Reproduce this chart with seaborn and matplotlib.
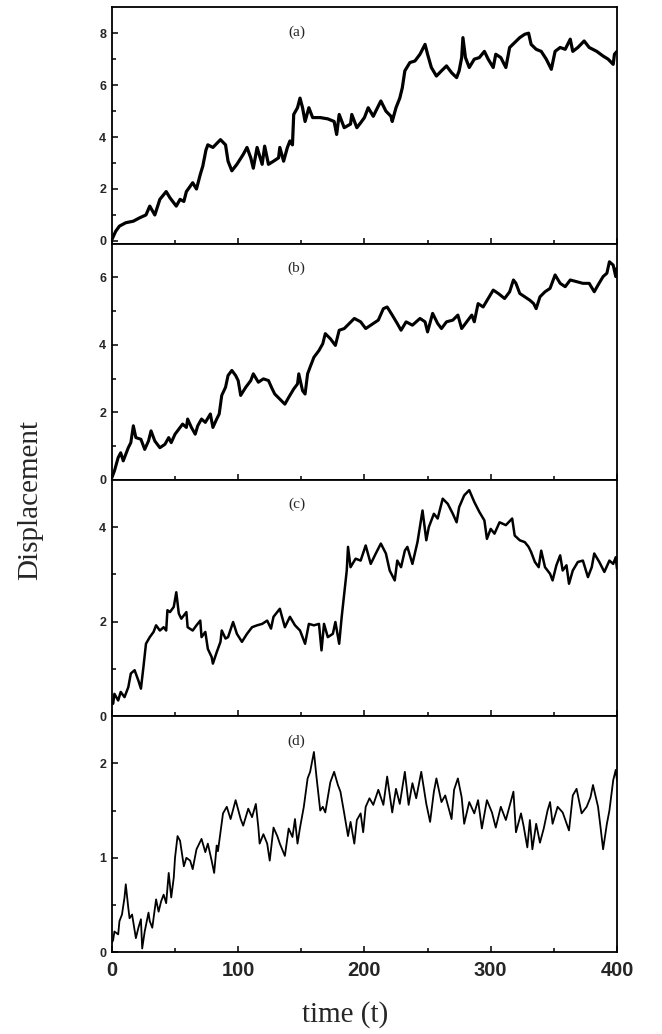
import matplotlib
matplotlib.use("Agg")
import matplotlib.pyplot as plt
import seaborn as sns
import pandas as pd
from matplotlib.ticker import MultipleLocator, FixedLocator

# ---------------- data ----------------
t_a = [0, 3, 6, 11, 17, 22, 27, 30, 34, 38, 43, 46, 51, 54, 57, 59, 64, 67, 70, 72, 74.5, 76, 80, 86, 90, 92, 95, 99,
       104, 107, 110, 112, 115, 119, 121, 124, 128, 132, 133, 136, 139, 141, 143, 144, 147, 149, 151, 153, 156, 159,
       165, 171, 176, 178, 180, 184, 189, 190, 194, 197, 200, 203, 207, 209, 213, 217, 221, 222, 225, 228, 230, 232,
       236, 240, 244, 248, 250, 253, 257, 261, 265, 269, 273, 275, 277, 278, 280, 283, 287, 291, 295, 298, 302, 304,
       308, 312, 315, 319, 323, 327, 330, 332, 336, 340, 344, 348, 351, 355, 359, 363, 365, 369, 374, 378, 384, 389,
       393, 397, 398, 400]
disp_a = [0.05, 0.37, 0.57, 0.7, 0.76, 0.89, 1.0, 1.34, 1.0, 1.6, 1.9, 1.66, 1.34, 1.6, 1.52, 1.9, 2.24, 2.0, 2.56,
          2.88, 3.5, 3.7, 3.6, 3.9, 3.7, 3.07, 2.7, 2.95, 3.33, 3.6, 3.2, 2.8, 3.6, 2.95, 3.65, 2.95, 3.07, 3.2, 3.6,
          3.07, 3.6, 3.85, 3.7, 4.87, 5.13, 5.5, 5.13, 4.6, 5.13, 4.75, 4.75, 4.7, 4.6, 4.1, 4.87, 4.36, 4.5, 4.87,
          4.36, 4.55, 4.75, 5.13, 4.8, 5.0, 5.39, 5.0, 4.8, 4.6, 5.13, 5.5, 5.9, 6.55, 6.87, 6.93, 7.19, 7.57, 7.19,
          6.68, 6.35, 6.55, 6.74, 6.48, 6.29, 6.55, 7.06, 7.83, 7.06, 6.68, 7.0, 7.06, 7.3, 7.0, 6.68, 7.19, 7.06,
          6.68, 7.45, 7.64, 7.83, 7.96, 8.0, 7.57, 7.38, 7.3, 7.0, 6.61, 7.3, 7.45, 7.38, 7.77, 7.3, 7.45, 7.7, 7.45,
          7.3, 7.12, 7.0, 6.8, 7.19, 7.3]

t_b = [0, 2, 5, 7, 9, 13, 15, 17, 19, 23, 26, 29, 31, 34, 38, 42, 45, 47, 50, 54, 56, 59, 60, 63, 66, 68, 71, 74, 78,
       80, 83, 85, 87, 90, 92, 95, 98, 100, 102, 106, 110, 112, 116, 120, 124, 127, 129, 133, 137, 140, 144, 147,
       148, 151, 153, 155, 157, 160, 164, 167, 169, 173, 177, 180, 184, 188, 192, 197, 201, 207, 211, 215, 218, 222,
       226, 229, 233, 238, 244, 248, 250, 254, 258, 261, 265, 270, 274, 277, 281, 285, 287, 290, 294, 298, 302, 306,
       311, 315, 318, 320, 323, 327, 331, 334, 336, 339, 343, 347, 351, 355, 359, 363, 368, 373, 378, 382, 385, 389,
       392, 394, 397, 399, 400]
disp_b = [0.06, 0.26, 0.66, 0.8, 0.56, 0.95, 1.1, 1.6, 1.25, 1.2, 0.9, 1.15, 1.45, 1.15, 0.95, 1.05, 1.25, 1.1, 1.35,
          1.55, 1.65, 1.55, 1.8, 1.55, 1.35, 1.6, 1.8, 1.7, 1.95, 1.55, 1.8, 1.95, 2.5, 2.74, 3.09, 3.24, 3.09, 2.94,
          2.5, 2.74, 2.94, 3.14, 2.89, 2.99, 2.94, 2.69, 2.54, 2.39, 2.24, 2.44, 2.69, 2.84, 3.14, 2.64, 2.54, 3.14,
          3.34, 3.63, 3.83, 4.03, 4.33, 4.18, 3.98, 4.43, 4.48, 4.63, 4.78, 4.68, 4.48, 4.63, 4.73, 5.07, 5.12, 4.88,
          4.63, 4.43, 4.68, 4.58, 4.78, 4.68, 4.38, 4.93, 4.63, 4.48, 4.68, 4.73, 4.88, 4.48, 4.68, 4.88, 4.68, 5.22,
          5.12, 5.37, 5.62, 5.52, 5.37, 5.57, 5.92, 5.82, 5.52, 5.42, 5.32, 5.22, 5.07, 5.42, 5.57, 5.67, 6.07, 5.82,
          5.72, 5.92, 5.87, 5.82, 5.82, 5.57, 5.77, 6.02, 6.12, 6.46, 6.36, 6.02, 6.27]

t_c = [0, 1, 2, 5, 7, 10, 13, 15, 18, 21, 23, 25, 27, 30, 33, 35, 38, 41, 43, 44, 46, 49, 51, 53, 55, 59, 60, 64, 67,
       70, 71, 74, 76, 79, 80, 83, 86, 87, 90, 92, 96, 99, 103, 107, 111, 115, 119, 123, 126, 128, 133, 137, 141,
       145, 149, 153, 156, 160, 164, 166, 168, 171, 175, 177, 180, 182, 184, 186, 187, 189, 193, 197, 201, 205, 209,
       213, 217, 220, 224, 226, 229, 232, 234, 238, 242, 246, 249, 251, 255, 258, 262, 266, 270, 273, 275, 279, 283,
       287, 291, 295, 297, 300, 303, 307, 312, 317, 319, 323, 327, 330, 332, 335, 338, 340, 343, 347, 349, 352, 355,
       357, 360, 362, 365, 369, 373, 377, 380, 382, 386, 390, 394, 397, 399, 400]
disp_c = [0.3, 0.26, 0.47, 0.33, 0.51, 0.4, 0.61, 0.9, 0.97, 0.75, 0.58, 1.04, 1.53, 1.67, 1.78, 1.92, 1.81, 1.88,
          1.81, 2.24, 2.2, 2.31, 2.62, 2.17, 2.06, 2.2, 1.88, 1.81, 1.92, 2.02, 1.67, 1.78, 1.42, 1.25, 1.11, 1.35,
          1.57, 1.81, 1.64, 1.67, 1.99, 1.74, 1.57, 1.74, 1.88, 1.92, 1.95, 2.02, 1.85, 2.1, 2.27, 1.88, 2.1, 1.92,
          1.81, 1.53, 1.95, 1.92, 1.95, 1.39, 1.95, 1.67, 1.74, 1.99, 1.53, 2.1, 2.59, 3.08, 3.58, 3.15, 3.33, 3.29,
          3.61, 3.22, 3.44, 3.65, 3.44, 3.08, 2.87, 3.29, 3.15, 3.5, 3.58, 3.22, 3.68, 4.35, 3.72, 4.0, 4.28, 4.18,
          4.6, 4.49, 4.28, 4.1, 4.42, 4.67, 4.78, 4.53, 4.32, 4.14, 3.75, 3.96, 3.86, 4.1, 4.04, 4.18, 3.82, 3.72,
          3.68, 3.58, 3.47, 3.26, 3.15, 3.5, 3.15, 3.01, 2.87, 3.19, 3.4, 3.08, 3.19, 2.8, 3.08, 3.26, 3.29, 2.94,
          3.15, 3.44, 3.26, 3.05, 3.29, 3.22, 3.36, 3.12]

t_d = [0, 1, 2, 5, 6, 8, 10, 11, 13, 14, 16, 19, 21, 23, 24, 26, 29, 30, 32, 35, 37, 39, 41, 43, 45, 47, 49, 50, 52,
       54, 57, 59, 62, 64, 67, 71, 74, 76, 79, 81, 83, 84, 88, 91, 94, 98, 102, 104, 108, 111, 114, 116, 117, 120,
       123, 125, 128, 131, 133, 137, 140, 143, 145, 147, 149, 152, 155, 157, 160, 162, 165, 167, 169, 173, 176, 179,
       181, 184, 187, 189, 192, 194, 197, 199, 201, 204, 207, 211, 215, 218, 222, 225, 228, 232, 235, 238, 241, 245,
       249, 252, 255, 257, 261, 264, 269, 271, 274, 277, 279, 283, 287, 290, 293, 297, 301, 304, 308, 312, 318, 320,
       324, 326, 329, 331, 333, 336, 339, 342, 345, 347, 349, 353, 357, 362, 365, 368, 372, 376, 379, 381, 385, 387,
       389, 392, 394, 397, 399, 400]
disp_d = [0.1, 0.13, 0.22, 0.19, 0.33, 0.4, 0.58, 0.72, 0.47, 0.36, 0.4, 0.15, 0.26, 0.35, 0.04, 0.22, 0.42, 0.33,
          0.26, 0.56, 0.43, 0.54, 0.61, 0.52, 0.84, 0.58, 0.79, 1.0, 1.23, 1.18, 0.91, 1.0, 0.97, 0.88, 1.09, 1.2,
          1.06, 1.15, 0.97, 0.84, 1.13, 1.07, 1.47, 1.54, 1.41, 1.61, 1.41, 1.34, 1.52, 1.43, 1.57, 1.32, 1.15, 1.25,
          1.15, 0.97, 1.32, 1.23, 1.15, 1.02, 1.31, 1.22, 1.41, 1.15, 1.32, 1.54, 1.84, 1.91, 2.12, 1.86, 1.5, 1.54,
          1.48, 1.8, 1.91, 1.77, 1.7, 1.47, 1.23, 1.38, 1.15, 1.4, 1.47, 1.27, 1.54, 1.63, 1.56, 1.72, 1.56, 1.86,
          1.48, 1.73, 1.57, 1.91, 1.56, 1.79, 1.63, 1.91, 1.57, 1.38, 1.7, 1.84, 1.59, 1.66, 1.41, 1.72, 1.84, 1.64,
          1.36, 1.59, 1.47, 1.61, 1.31, 1.61, 1.48, 1.32, 1.54, 1.4, 1.7, 1.27, 1.47, 1.34, 1.11, 1.4, 1.09, 1.36,
          1.16, 1.31, 1.5, 1.59, 1.36, 1.54, 1.48, 1.29, 1.66, 1.73, 1.47, 1.54, 1.64, 1.77, 1.54, 1.32, 1.09, 1.36,
          1.5, 1.82, 1.93, 1.82]

panel_labels = ["(a)", "(b)", "(c)", "(d)"]
x_ticks = [0, 100, 200, 300, 400]
y_major = [[0, 2, 4, 6, 8], [0, 2, 4, 6], [0, 2, 4], [0, 1, 2]]
y_minor = [[1, 3, 5, 7], [1, 3, 5], [1, 3], [0.5, 1.5]]
y_limits = [(-0.1, 9), (0, 7), (0, 5), (0, 2.5)]

series = [(t_a, disp_a), (t_b, disp_b), (t_c, disp_c), (t_d, disp_d)]
line_widths = [2.3, 2.2, 1.8, 1.3]

# ---------------- figure ----------------
sns.set_style("ticks")
plt.rcParams["font.family"] = ["Liberation Sans", "DejaVu Sans"]

fig, axes = plt.subplots(4, 1, sharex=True, figsize=(6.62, 10.34), dpi=100)
fig.subplots_adjust(left=0.169, right=0.932, top=0.993, bottom=0.079, hspace=0)

for i, ax in enumerate(axes):
    t, d = series[i]
    df = pd.DataFrame({"time": t, "disp": d})
    sns.lineplot(data=df, x="time", y="disp", ax=ax, color="black",
                 linewidth=line_widths[i], estimator=None, sort=False)
    ax.set_xlim(0, 400)
    ax.set_ylim(*y_limits[i])
    ax.set_xlabel("")
    ax.set_ylabel("")
    ax.xaxis.set_major_locator(FixedLocator(x_ticks))
    ax.xaxis.set_minor_locator(MultipleLocator(50))
    ax.yaxis.set_major_locator(FixedLocator(y_major[i]))
    ax.yaxis.set_minor_locator(FixedLocator(y_minor[i]))
    ax.tick_params(axis="both", which="both", direction="in", top=False, right=False,
                   width=1.1, color="black")
    ax.tick_params(axis="both", which="major", length=4.5)
    ax.tick_params(axis="both", which="minor", length=3)
    ax.tick_params(axis="y", labelsize=9, pad=4)
    ax.tick_params(axis="x", labelsize=14.5, pad=6)
    for lab in ax.get_yticklabels():
        lab.set_fontweight("bold")
    for lab in ax.get_xticklabels():
        lab.set_fontweight("bold")
    for sp in ax.spines.values():
        sp.set_visible(True)
        sp.set_linewidth(1.3)
        sp.set_color("black")
    ax.text(0.366, 0.895, panel_labels[i], transform=ax.transAxes, ha="center", va="center",
            fontsize=11, family="Liberation Serif")

fig.text(0.045, 0.516, "Displacement", rotation=90, ha="center", va="center",
         fontsize=21, family="Liberation Serif")
fig.text(0.522, 0.019, "time (t)", ha="center", va="center",
         fontsize=21, family="Liberation Serif")

fig.savefig("out.png", dpi=100, facecolor="white")
